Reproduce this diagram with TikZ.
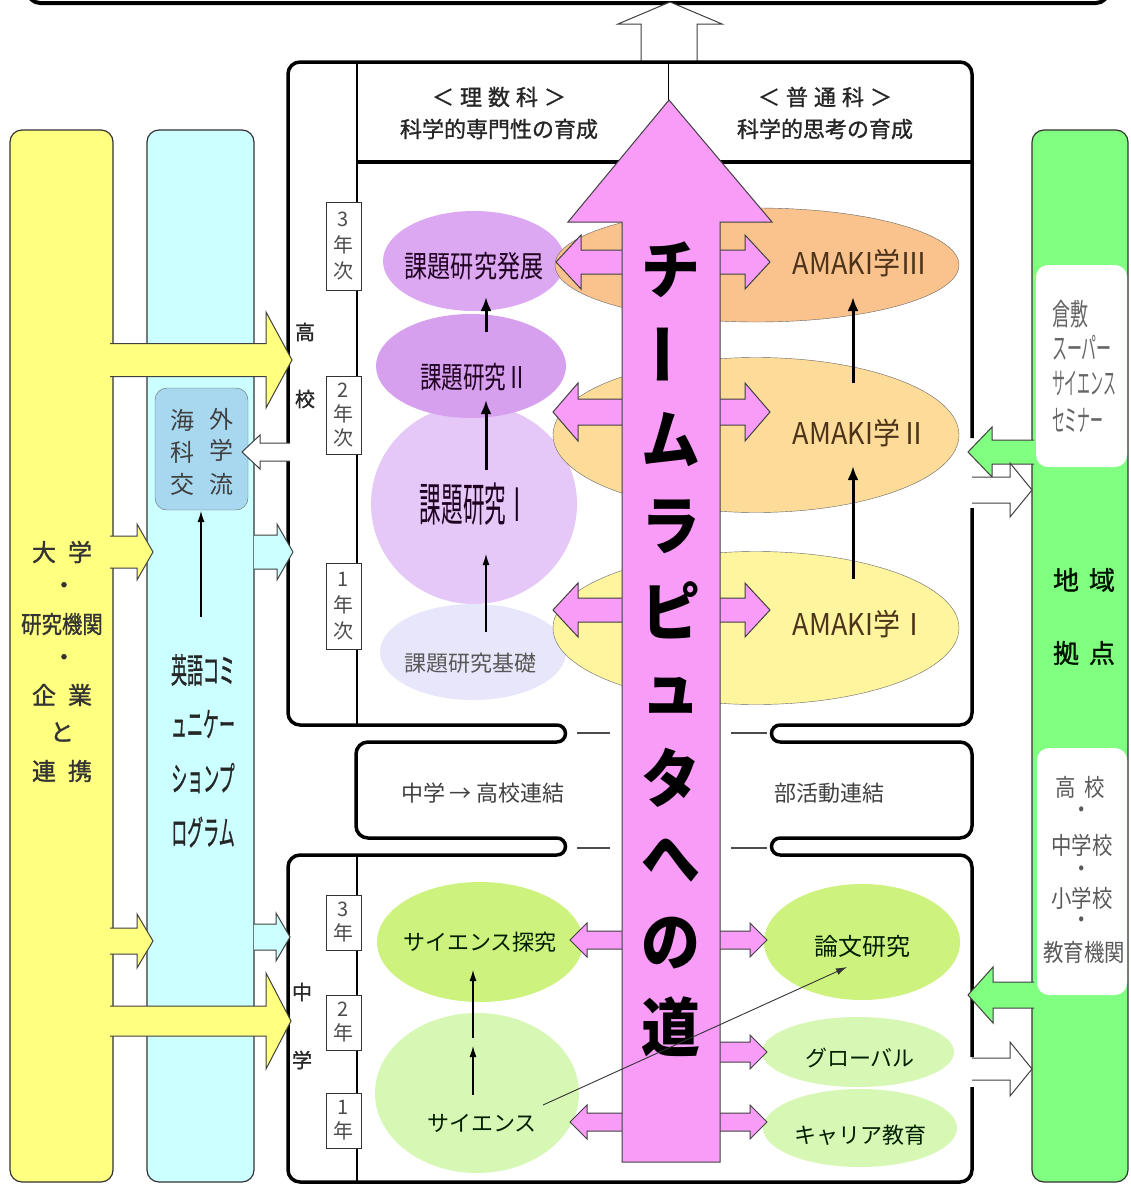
\documentclass[tikz,border=0pt]{standalone}
\usepackage{fontspec}
\usetikzlibrary{shapes.geometric,arrows.meta}
\newfontfamily\jp{Noto Sans CJK JP}
\newfontfamily\jpm[FakeBold=1.2]{Noto Sans CJK JP}
\newcommand\jpb{\jp\bfseries}
\newcommand\fs[2]{\fontsize{#1}{#2}\selectfont}
\definecolor{cyel}{HTML}{FFFF80}
\definecolor{cblu}{HTML}{CCFFFF}
\definecolor{cgrn}{HTML}{80FF80}
\definecolor{cbox}{HTML}{A8D8F0}
\definecolor{cpink}{HTML}{F89CF8}
\definecolor{pur1}{HTML}{DCA8F2}
\definecolor{pur2}{HTML}{D6A0EE}
\definecolor{pur3}{HTML}{E6C8F8}
\definecolor{pur4}{HTML}{E8E6FA}
\definecolor{amak3}{HTML}{FAC28C}
\definecolor{amak2}{HTML}{FCDC98}
\definecolor{amak1}{HTML}{FFF59E}
\definecolor{lg1}{HTML}{CDF27E}
\definecolor{lg2}{HTML}{D6F8B4}
% block arrow: fill, xtail, xtip, y, shaft half, head half, head length (negative if pointing left)
\newcommand\barR[7]{%
  \fill[#1] ({#2},{#4-#5}) -- ({#3-(#7)},{#4-#5}) -- ({#3-(#7)},{#4-#6}) -- ({#3},{#4}) -- ({#3-(#7)},{#4+#6}) -- ({#3-(#7)},{#4+#5}) -- ({#2},{#4+#5}) -- cycle;
  \draw[aline] ({#2},{#4-#5}) -- ({#3-(#7)},{#4-#5}) -- ({#3-(#7)},{#4-#6}) -- ({#3},{#4}) -- ({#3-(#7)},{#4+#6}) -- ({#3-(#7)},{#4+#5}) -- ({#2},{#4+#5});}
% double block arrow: fill, xleft tip, xright tip, y, shaft half, head half, head length
\newcommand\barLR[7]{%
  \filldraw[fill=#1, aline] ({#2},{#4}) -- ({#2+#7},{#4-#6}) -- ({#2+#7},{#4-#5}) -- ({#3-#7},{#4-#5}) -- ({#3-#7},{#4-#6}) -- ({#3},{#4}) -- ({#3-#7},{#4+#6}) -- ({#3-#7},{#4+#5}) -- ({#2+#7},{#4+#5}) -- ({#2+#7},{#4+#6}) -- cycle;}
\begin{document}
\begin{tikzpicture}[x=1pt,y=-1pt,
  aline/.style={draw=black!75,line width=1pt,line join=miter},
  boxline/.style={line width=3.5pt,draw=black},
  t/.style={inner sep=0pt,font=\jp},
  ell/.style={ellipse,inner sep=0pt},
  barrow/.style={line width=3pt,-{Latex[length=14pt,width=11pt]}},
  tarrow/.style={line width=1.2pt,-{Latex[length=11pt,width=7pt]}},
  gbox/.style={draw=black!80,line width=1pt,fill=white,minimum width=35pt,inner sep=0pt,align=center,text=black!70},
  col/.style={draw=black!80,line width=1.2pt,rounded corners=12pt}]
\fill[white] (0,0) rectangle (1131,1184);
\useasboundingbox (0,0) rectangle (1131,1184);

% top bar and white arrow
\draw[line width=4pt, rounded corners=12pt] (28,-30) -- (28,3) -- (1108,3) -- (1108,-30);
\filldraw[fill=white, aline] (670,2) -- (722,24) -- (697,24) -- (697,62) -- (641,62) -- (641,24) -- (618,24) -- cycle;

% columns
\filldraw[col, fill=cyel] (10,130) rectangle (113,1182);
\filldraw[col, fill=cblu] (147,130) rectangle (254,1182);
\filldraw[col, fill=cgrn] (1032,130) rectangle (1128,1182);
\fill[white, rounded corners=12pt] (1036,265) rectangle (1127,467);
\fill[white, rounded corners=12pt] (1037,748) rectangle (1127,995);
\node[draw=black!60, fill=cbox, rounded corners=12pt, minimum width=93pt, minimum height=122pt, inner sep=0pt] (kaigai) at (201.5,449) {};

% main frames
\draw[boxline, rounded corners=12pt] (288,443) -- (288,62) -- (972,62) -- (972,438);
\draw[boxline, rounded corners=12pt] (972,508) -- (972,725) -- (780,725);
\draw[boxline, rounded corners=12pt] (557,725) -- (288,725) -- (288,461);
\draw[boxline] (557,725) arc[start angle=90, end angle=-90, radius=8.5pt];
\draw[boxline] (780,725) arc[start angle=90, end angle=270, radius=8.5pt];
\draw[boxline, rounded corners=12pt] (557,742) -- (356,742) -- (356,838) -- (557,838);
\draw[boxline, rounded corners=12pt] (780,742) -- (972,742) -- (972,838) -- (780,838);
\draw[boxline] (557,838) arc[start angle=90, end angle=-90, radius=8.5pt];
\draw[boxline] (780,838) arc[start angle=90, end angle=270, radius=8.5pt];
\draw[boxline, rounded corners=12pt] (557,855) -- (288,855) -- (288,1182) -- (972,1182) -- (972,1087);
\draw[boxline, rounded corners=12pt] (972,1057) -- (972,855) -- (780,855);
\draw[line width=2.5pt] (357,62) -- (357,725);
\draw[line width=2.5pt] (357,855) -- (357,1182);
\draw[line width=3.5pt] (357,162) -- (972,162);
\draw[line width=1pt] (668,62) -- (668,100);
\draw[black!70, line width=1.2pt] (577,733) -- (610,733) (731,733) -- (767,733) (577,848) -- (610,848) (731,848) -- (767,848);

% ellipses
\node[ell, fill=pur3, minimum width=206pt, minimum height=200pt] (k1) at (474,504) {};
\node[ell, fill=pur2, minimum width=190pt, minimum height=104pt] (k2) at (471,366) {};
\node[ell, fill=pur1, minimum width=182pt, minimum height=100pt] (k3) at (474,261) {};
\node[ell, fill=pur4, minimum width=186pt, minimum height=96pt] (k0) at (473,652) {};
\node[ell, fill=amak3, draw=black!60, minimum width=404pt, minimum height=114pt] (a3) at (757,265) {};
\node[ell, fill=amak2, draw=black!60, minimum width=406pt, minimum height=155pt] (a2) at (756,435) {};
\node[ell, fill=amak1, draw=black!60, minimum width=406pt, minimum height=153pt] (a1) at (756,628) {};
\node[ell, fill=lg2, minimum width=204pt, minimum height=160pt] (sci) at (477,1093) {};
\node[ell, fill=lg1, minimum width=206pt, minimum height=120pt] (tan) at (480,942) {};
\node[ell, fill=lg1, minimum width=196pt, minimum height=116pt] (ron) at (862,942) {};
\node[ell, fill=lg2, minimum width=192pt, minimum height=70pt] (glo) at (858,1052) {};
\node[ell, fill=lg2, minimum width=194pt, minimum height=78pt] (car) at (860,1128) {};

% pink side arrows
\barLR{cpink}{556}{770}{262}{12}{27}{25}
\barLR{cpink}{553}{770}{412}{13}{29}{25}
\barLR{cpink}{553}{770}{610}{12}{27}{25}
\barLR{cpink}{570}{767}{940}{9}{17}{17}
\barR{cpink}{700}{767}{1052}{10}{17}{17}
\barLR{cpink}{570}{767}{1122}{9}{17}{17}

% main pink arrow
\filldraw[fill=cpink, aline] (669,100) -- (772,222) -- (720,222) -- (720,1162) -- (622,1162) -- (622,222) -- (568,222) -- cycle;
\begin{scope}[every node/.style={t, font={\jpb\fs{64}{64}}, xscale=0.92}]
\node (p1) at (671,270) {チ};
\node[rotate=90] (p2) at (671,354) {ー};
\node (p3) at (671,440) {ム};
\node (p4) at (671,527) {ラ};
\node (p5) at (671,610) {ピ};
\node (p6) at (671,695) {ュ};
\node (p7) at (671,778) {タ};
\node (p8) at (671,860) {へ};
\node (p9) at (671,943) {の};
\node (p10) at (671,1027) {道};
\end{scope}

% black arrows
\coordinate (b1s) at (486,632); \coordinate (b1e) at (486,554);
\coordinate (b2s) at (486,470); \coordinate (b2e) at (486,400);
\coordinate (b3s) at (486,332); \coordinate (b3e) at (486,297);
\coordinate (b4s) at (853,579); \coordinate (b4e) at (853,466);
\coordinate (b5s) at (853,383); \coordinate (b5e) at (853,297);
\coordinate (b6s) at (201,617); \coordinate (b6e) at (201,511);
\coordinate (b7s) at (473,1095); \coordinate (b7m) at (473,1046); \coordinate (b7n) at (473,1038); \coordinate (b7e) at (473,970);
\coordinate (b8s) at (543,1105); \coordinate (b8e) at (847,967);
\draw[tarrow] (b1s) -- (b1e);
\draw[barrow] (b2s) -- (b2e);
\draw[barrow] (b3s) -- (b3e);
\draw[barrow] (b4s) -- (b4e);
\draw[barrow] (b5s) -- (b5e);
\draw[tarrow] (b6s) -- (b6e);
\draw[tarrow] (b7s) -- (b7m);
\draw[tarrow] (b7n) -- (b7e);
\draw[line width=0.9pt, black!80, -{Latex[length=11pt,width=7pt]}] (b8s) -- (b8e);

% left side block arrows
\barR{cyel}{110}{153}{552}{16}{28}{16}
\barR{cyel}{110}{153}{941}{13}{27}{16}
\barR{cblu}{254}{293}{552}{17}{28}{16}
\barR{cblu}{254}{290}{937}{13}{24}{14}
\barR{cyel}{110}{292}{360}{16.5}{48}{26}
\barR{cyel}{110}{291}{1021}{15}{48}{25}
\barR{white}{290}{242}{452}{9}{17}{-18}
% right side block arrows
\barR{cgrn}{1034}{968}{452}{12}{25}{-24}
\barR{white}{972}{1032}{490}{13}{27}{22}
\barR{cgrn}{1034}{968}{995}{13}{28}{-25}
\barR{white}{972}{1032}{1069}{11}{27}{22}

% grade boxes
\node[gbox, minimum height=88pt, font={\jp\fs{20}{26}}] (g3) at (343.5,246) {3\\年\\次};
\node[gbox, minimum height=78pt, font={\jp\fs{20}{24}}] (g2) at (343.5,415.5) {2\\年\\次};
\node[gbox, minimum height=86pt, font={\jp\fs{20}{26}}] (g1) at (343.5,606.5) {1\\年\\次};
\node[gbox, minimum height=55pt, font={\jp\fs{20}{24}}] (j3) at (343.5,922.5) {3\\年};
\node[gbox, minimum height=55pt, font={\jp\fs{20}{24}}] (j2) at (343.5,1022.5) {2\\年};
\node[gbox, minimum height=55pt, font={\jp\fs{20}{24}}] (j1) at (343.5,1120.5) {1\\年};

% header texts
\begin{scope}[every node/.style={t, font={\jpm\fs{22}{22}}, text=black!85}]
\node (h1) at (499,97) {＜\hspace{6pt}理\hspace{6pt}数\hspace{6pt}科\hspace{6pt}＞};
\node (h2) at (499,129) {科学的専門性の育成};
\node (h3) at (825,97) {＜\hspace{6pt}普\hspace{6pt}通\hspace{6pt}科\hspace{6pt}＞};
\node (h4) at (825,129) {科学的思考の育成};
\node[font={\jpm\fs{20}{20}}] (hk1) at (305,332) {高};
\node[font={\jpm\fs{20}{20}}] (hk2) at (305,399) {校};
\node[font={\jpm\fs{20}{20}}] (jh1) at (302,992) {中};
\node[font={\jpm\fs{20}{20}}] (jh2) at (302,1060) {学};
\end{scope}

% purple labels
\begin{scope}[every node/.style={t, text=black!75!violet}]
\node[font={\jp\fs{30}{30}}, xscale=0.77] (l3) at (474,266) {課題研究発展};
\node[font={\jp\fs{30}{30}}, xscale=0.72] (l2) at (474,377) {課題研究Ⅱ};
\node[font={\jp\fs{46}{46}}, xscale=0.47] (l1) at (474,504) {課題研究Ⅰ};
\node[font={\jp\fs{22}{22}}, text=black!65] (l0) at (470,663) {課題研究基礎};
\end{scope}

% AMAK labels
\begin{scope}[every node/.style={t, font={\jp\fs{30}{30}}, xscale=0.9, text=black!60!brown}]
\node (m3) at (860,263) {AMAKI学Ⅲ};
\node (m2) at (860,433) {AMAKI学Ⅱ};
\node (m1) at (860,624) {AMAKI学Ⅰ};
\end{scope}

% green labels
\begin{scope}[every node/.style={t, font={\jp\fs{22}{22}}, text=black!70!green!40!black}]
\node (s1) at (480,942) {サイエンス探究};
\node (s2) at (482,1123) {サイエンス};
\node[font={\jp\fs{24}{24}}] (s3) at (862,946) {論文研究};
\node (s4) at (860,1058) {グローバル};
\node (s5) at (860,1135) {キャリア教育};
\end{scope}

% middle
\node[t, font={\jp\fs{22}{22}}, text=black!75] (c1) at (483,793) {中学 → 高校連結};
\node[t, font={\jp\fs{22}{22}}, text=black!75] (c2) at (829,793) {部活動連結};

% yellow column text
\begin{scope}[every node/.style={t, font={\jpm\fs{24}{24}}, text=black!80}]
\node (y1) at (62,552) {大\hspace{12pt}学};
\node (y2) at (64,588) {・};
\node[xscale=0.85] (y3) at (62,624) {研究機関};
\node (y4) at (64,660) {・};
\node (y5) at (62,695) {企\hspace{12pt}業};
\node (y6) at (62,732) {と};
\node (y7) at (62,771) {連\hspace{12pt}携};
\end{scope}

% light blue texts
\begin{scope}[every node/.style={t, font={\jp\fs{24}{24}}, text=black!75}]
\node (o1) at (182,420) {海};
\node (o2) at (221,419) {外};
\node (o3) at (182,452) {科};
\node (o4) at (221,450) {学};
\node (o5) at (182,484) {交};
\node (o6) at (221,484) {流};
\end{scope}
\begin{scope}[every node/.style={t, font={\jpm\fs{34}{34}}, xscale=0.47, text=black!85}]
\node (e1) at (203,670) {英語コミ};
\node (e2) at (203,724) {ュニケー};
\node (e3) at (203,778) {ションプ};
\node (e4) at (203,832) {ログラム};
\end{scope}

% green column texts
\begin{scope}[every node/.style={t, font={\jp\fs{30}{30}}, text=black!60, anchor=west}]
\node[xscale=0.6] (r1) at (1052,314) {倉敷};
\node[xscale=0.5] (r2) at (1052,348) {スーパー};
\node[xscale=0.43] (r3) at (1052,383) {サイエンス};
\node[xscale=0.43] (r4) at (1052,420) {セミナー};
\end{scope}
\begin{scope}[every node/.style={t, font={\jpm\fs{26}{26}}, text=black!75!green!30!black}]
\node (r5) at (1084,580) {地\hspace{10pt}域};
\node (r6) at (1084,653) {拠\hspace{10pt}点};
\end{scope}
\begin{scope}[every node/.style={t, font={\jp\fs{24}{24}}, xscale=0.85, text=black!65}]
\node (q1) at (1080,787) {高\hspace{10pt}校};
\node (q2) at (1082,813) {・};
\node (q3) at (1082,845) {中学校};
\node (q4) at (1082,872) {・};
\node (q5) at (1082,898) {小学校};
\node (q6) at (1082,923) {・};
\node (q7) at (1084,952) {教育機関};
\end{scope}
\end{tikzpicture}
\end{document}
